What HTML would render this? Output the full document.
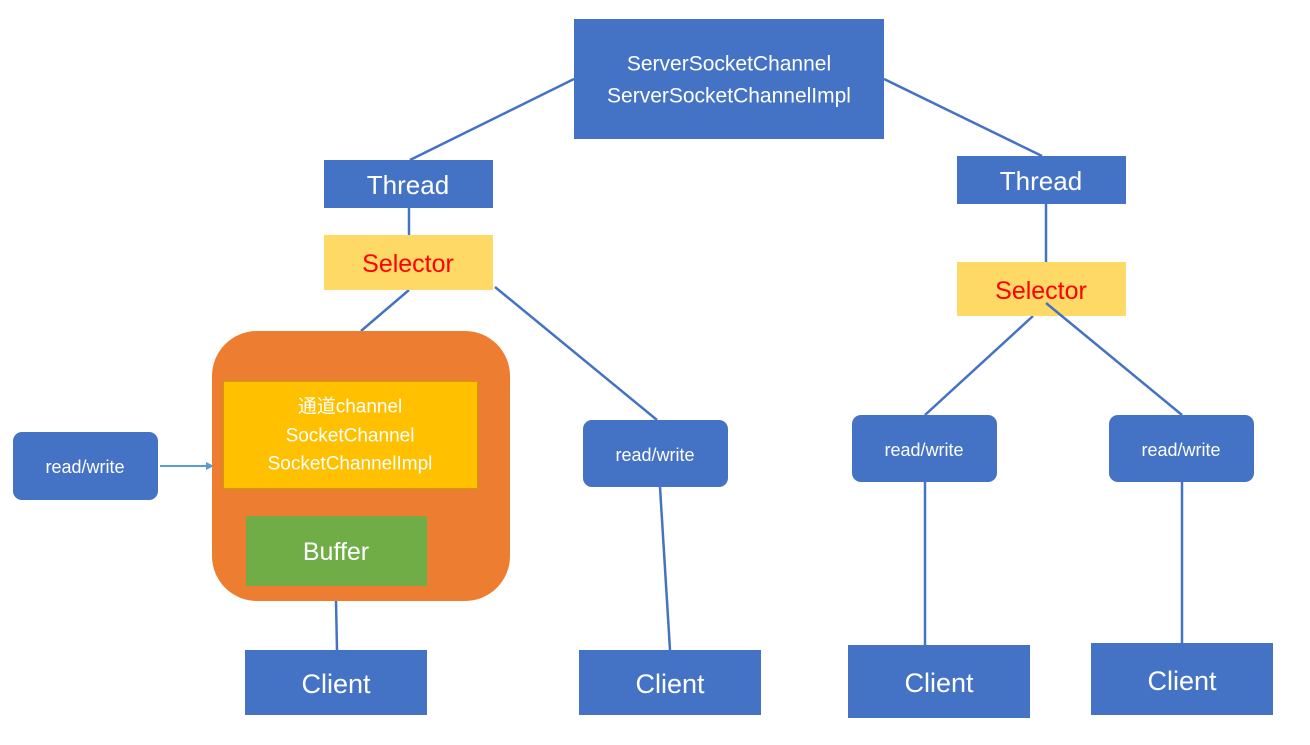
<!DOCTYPE html>
<html><head><meta charset="utf-8"><style>
html,body{margin:0;padding:0;background:#fff;}
svg text{font-family:"Liberation Sans","Noto Sans CJK SC",sans-serif;fill:#fff;text-anchor:middle;dominant-baseline:central;}
</style></head><body>
<svg width="1310" height="740" viewBox="0 0 1310 740" xmlns="http://www.w3.org/2000/svg">
<defs><marker id="ah" markerWidth="8" markerHeight="8" refX="7" refY="4" orient="auto" markerUnits="userSpaceOnUse"><path d="M0,0 L8,4 L0,8 z" fill="#5B9BD5"/></marker></defs>
<g stroke="#4472C4" stroke-width="2.5" fill="none">
<line x1="574" y1="79" x2="410" y2="160"/>
<line x1="884" y1="79" x2="1042" y2="156"/>
<line x1="409" y1="208" x2="409" y2="235"/>
<line x1="409" y1="290" x2="361" y2="331"/>
<line x1="495" y1="287" x2="657" y2="420"/>
<line x1="336" y1="601" x2="337" y2="650"/>
<line x1="660" y1="487" x2="670" y2="650"/>
<line x1="1046" y1="204" x2="1046" y2="262"/>
<line x1="1033" y1="316" x2="925" y2="415"/>
<line x1="925" y1="482" x2="925" y2="645"/>
<line x1="1182" y1="482" x2="1182" y2="643"/>
</g>
<line x1="160" y1="466" x2="213" y2="466" stroke="#5B9BD5" stroke-width="2" marker-end="url(#ah)"/>
<rect x="574" y="19" width="310" height="120" fill="#4472C4"/>
<text x="729" y="64" font-size="21">ServerSocketChannel</text>
<text x="729" y="96" font-size="21">ServerSocketChannelImpl</text>
<rect x="324" y="160" width="169" height="48" fill="#4472C4"/>
<text x="408" y="185" font-size="26">Thread</text>
<rect x="324" y="235" width="169" height="55" fill="#FFD966"/>
<text x="408" y="264" font-size="25" style="fill:#FF0000">Selector</text>
<rect x="957" y="156" width="169" height="48" fill="#4472C4"/>
<text x="1041" y="181" font-size="26">Thread</text>
<rect x="957" y="262" width="169" height="54" fill="#FFD966"/>
<text x="1041" y="291" font-size="25" style="fill:#FF0000">Selector</text>
<line x1="1046" y1="303" x2="1182" y2="415" stroke="#4472C4" stroke-width="2.5"/>
<rect x="212" y="331" width="298" height="270" rx="45" fill="#ED7D31"/>
<rect x="223.5" y="381.5" width="254" height="107" fill="#FFC000" stroke="#C9A000" stroke-width="1"/>
<text x="350" y="407" font-size="19">通道channel</text>
<text x="350" y="436" font-size="19">SocketChannel</text>
<text x="350" y="464" font-size="19">SocketChannelImpl</text>
<rect x="246" y="516" width="181" height="70" fill="#70AD47"/>
<text x="336" y="552" font-size="25">Buffer</text>
<rect x="13" y="432" width="145" height="68" rx="9" fill="#4472C4"/>
<text x="85" y="467" font-size="18">read/write</text>
<rect x="583" y="420" width="145" height="67" rx="9" fill="#4472C4"/>
<text x="655" y="455" font-size="18">read/write</text>
<rect x="852" y="415" width="145" height="67" rx="9" fill="#4472C4"/>
<text x="924" y="450" font-size="18">read/write</text>
<rect x="1109" y="415" width="145" height="67" rx="9" fill="#4472C4"/>
<text x="1181" y="450" font-size="18">read/write</text>
<rect x="245" y="650" width="182" height="65" fill="#4472C4"/>
<text x="336" y="684" font-size="27">Client</text>
<rect x="579" y="650" width="182" height="65" fill="#4472C4"/>
<text x="670" y="684" font-size="27">Client</text>
<rect x="848" y="645" width="182" height="73" fill="#4472C4"/>
<text x="939" y="683" font-size="27">Client</text>
<rect x="1091" y="643" width="182" height="72" fill="#4472C4"/>
<text x="1182" y="681" font-size="27">Client</text>
</svg>
</body></html>
